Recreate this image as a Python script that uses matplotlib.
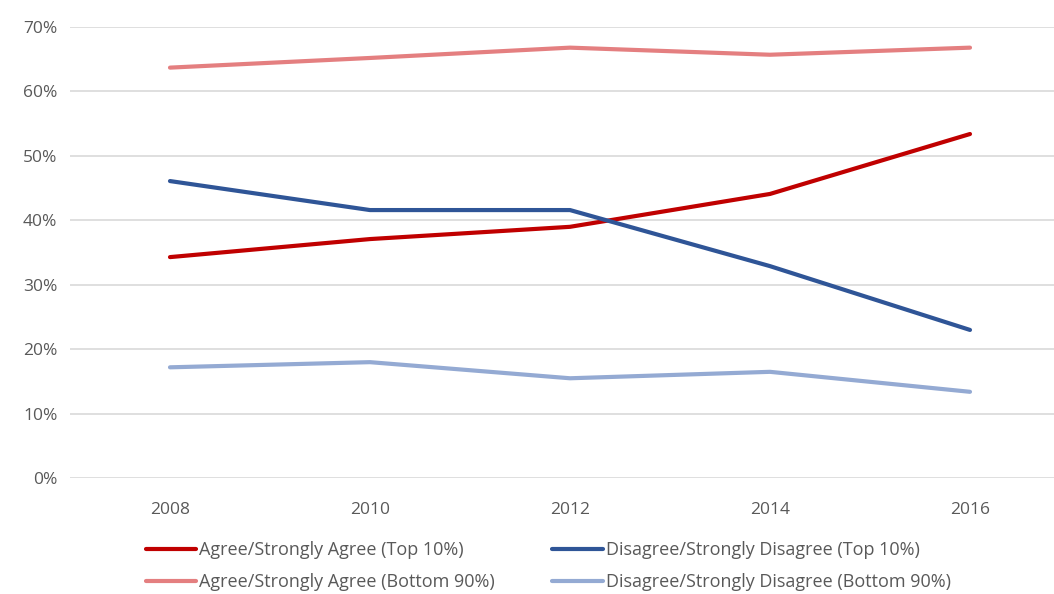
import matplotlib.pyplot as plt
from matplotlib.ticker import PercentFormatter

years = ['2008', '2010', '2012', '2014', '2016']
agree_top = [34.3, 37.1, 39.0, 44.1, 53.4]
disagree_top = [46.1, 41.6, 41.6, 32.9, 23.0]
agree_bottom = [63.7, 65.2, 66.8, 65.7, 66.8]
disagree_bottom = [17.2, 18.0, 15.5, 16.5, 13.4]

plt.rcParams['font.family'] = ['Open Sans', 'DejaVu Sans']
grey = '#595959'

fig = plt.figure(figsize=(10.54, 5.94), dpi=100)
ax = fig.add_axes([0.0664, 0.195, 0.9336, 0.7595])

x = range(len(years))
lw = 3.0
l1, = ax.plot(x, agree_top, color='#C00000', lw=lw, solid_capstyle='round',
              label='Agree/Strongly Agree (Top 10%)')
l2, = ax.plot(x, disagree_top, color='#2F5597', lw=lw, solid_capstyle='round',
              label='Disagree/Strongly Disagree (Top 10%)')
l3, = ax.plot(x, agree_bottom, color='#E47F80', lw=lw, solid_capstyle='round',
              label='Agree/Strongly Agree (Bottom 90%)')
l4, = ax.plot(x, disagree_bottom, color='#94AAD3', lw=lw, solid_capstyle='round',
              label='Disagree/Strongly Disagree (Bottom 90%)')

ax.set_ylim(0, 70)
ax.set_yticks(range(0, 71, 10))
ax.yaxis.set_major_formatter(PercentFormatter(decimals=0))
ax.set_xlim(-0.5, 4.42)
ax.set_xticks(list(x))
ax.set_xticklabels(years)
ax.grid(axis='y', color='#D9D9D9', lw=1.2)
ax.set_axisbelow(True)
for s in ax.spines.values():
    s.set_visible(False)
ax.tick_params(length=0, labelsize=12.5, labelcolor=grey)
ax.tick_params(axis='x', pad=17)
ax.tick_params(axis='y', pad=9)

fig.legend(handles=[l1, l3, l2, l4], ncol=2, loc='center',
           bbox_to_anchor=(0.52, 0.047), frameon=False,
           fontsize=13, labelcolor=grey, handlelength=2.8,
           handletextpad=0.15, columnspacing=3.2, labelspacing=0.8)

fig.savefig('out.png', dpi=100)
